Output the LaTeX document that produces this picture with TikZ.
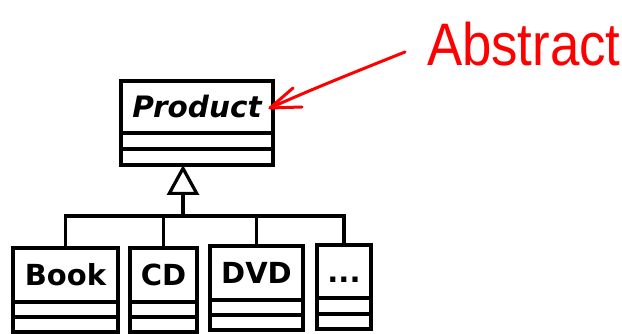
\documentclass[tikz,border=0pt]{standalone}
\usepackage{fontspec}
\setmainfont{DejaVu Sans}
\newfontfamily\notefont{Liberation Sans}
\usetikzlibrary{arrows.meta}
\begin{document}
\begin{tikzpicture}[x=1pt,y=-1pt,
  every node/.style={inner sep=0pt, outer sep=0pt},
  umlname/.style={draw, line width=3.2pt, minimum height=54pt,
    font=\fontsize{29}{31}\selectfont\bfseries},
  umlslot/.style={draw, line width=3.2pt, minimum height=15pt, anchor=north},
  link/.style={line width=3.2pt},
  note/.style={red, line width=3pt, line cap=round, line join=round}]
\useasboundingbox (0,0) rectangle (622,334);

% abstract superclass
\node[umlname, minimum width=152pt, minimum height=52pt, font=\fontsize{29.5}{31}\selectfont\bfseries\itshape]
  (prod) at (197,107) {Product};
\node[umlslot, minimum width=152pt, minimum height=16pt] (prod1) at (prod.south) {};
\node[umlslot, minimum width=152pt, minimum height=16pt] (prod2) at (prod1.south) {};

% subclasses
\node[umlname, minimum width=105pt] (book) at (65.5,275) {Book};
\node[umlslot, minimum width=105pt] (book1) at (book.south) {};
\node[umlslot, minimum width=105pt] (book2) at (book1.south) {};

\node[umlname, minimum width=67pt] (cd) at (163.5,275) {CD};
\node[umlslot, minimum width=67pt] (cd1) at (cd.south) {};
\node[umlslot, minimum width=67pt] (cd2) at (cd1.south) {};

\node[umlname, minimum width=93pt] (dvd) at (256.5,273) {DVD};
\node[umlslot, minimum width=93pt] (dvd1) at (dvd.south) {};
\node[umlslot, minimum width=93pt] (dvd2) at (dvd1.south) {};

\node[umlname, minimum width=54pt, minimum height=53pt] (more) at (344,271.5) {\vphantom{D}...};
\node[umlslot, minimum width=54pt, minimum height=16pt] (more1) at (more.south) {};
\node[umlslot, minimum width=54pt, minimum height=15pt] (more2) at (more1.south) {};

% generalisation
\coordinate (joint) at (183,216);
\draw[link] (book.north) |- (joint);
\draw[link] (more.north) |- (joint);
\draw[link] (cd.north) -- (cd.north |- joint);
\draw[link] (dvd.north) -- (dvd.north |- joint);
\draw[link, -{Triangle[open, length=30pt, width=32pt, line width=3.2pt]}]
  (joint) -- (joint |- prod2.south);

% handwritten note
\node[red, anchor=base west, xscale=0.88, font=\notefont\fontsize{60}{60}\selectfont]
  (abs) at (427,66) {Abstract};
\coordinate (tail) at (405,52);
\coordinate (tip) at (270,108);
\coordinate (barbA) at (293,88);
\coordinate (barbB) at (302,107);
\draw[note] (tail) .. controls (350,74) and (310,90) .. (tip);
\draw[note] (barbA) -- (tip) -- (barbB);
\end{tikzpicture}
\end{document}
